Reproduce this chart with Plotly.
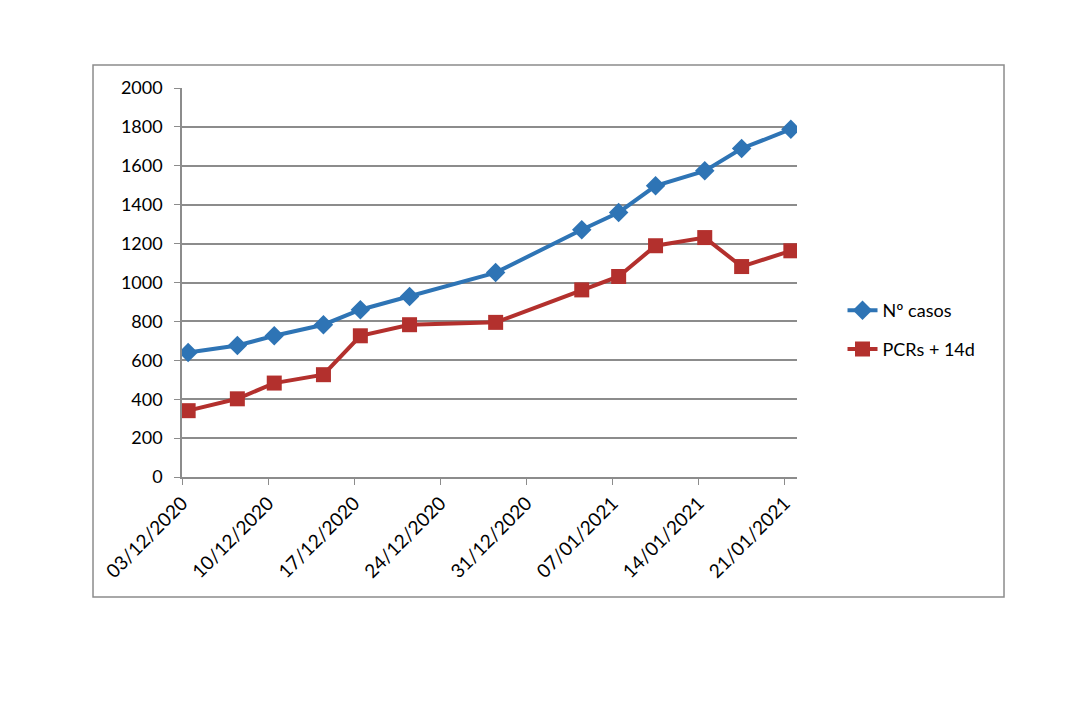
import plotly.graph_objects as go

dates = ["2020-12-03", "2020-12-07", "2020-12-10", "2020-12-14", "2020-12-17",
         "2020-12-21", "2020-12-28", "2021-01-04", "2021-01-07", "2021-01-10",
         "2021-01-14", "2021-01-17", "2021-01-21"]
casos = [640, 676, 726, 783, 860, 928, 1051, 1271, 1360, 1497, 1574, 1689, 1788]
pcrs = [341, 402, 483, 526, 726, 783, 795, 962, 1031, 1189, 1231, 1082, 1163]
tick_dates = ["2020-12-03", "2020-12-10", "2020-12-17", "2020-12-24",
              "2020-12-31", "2021-01-07", "2021-01-14", "2021-01-21"]
tick_labels = ["03/12/2020", "10/12/2020", "17/12/2020", "24/12/2020",
               "31/12/2020", "07/01/2021", "14/01/2021", "21/01/2021"]

# Excel date axis draws each point in the middle of its day
xpts = [d + " 12:00" for d in dates]

BLUE = "#2E74B5"
RED = "#B3302D"
GRID = "#8C8C8C"
FONT = "Lato"

fig = go.Figure()
fig.add_trace(go.Scatter(
    x=xpts, y=casos, name="Nº casos", mode="lines+markers",
    line=dict(color=BLUE, width=4),
    marker=dict(symbol="diamond", size=15, color=BLUE),
    legend="legend"))
fig.add_trace(go.Scatter(
    x=xpts, y=pcrs, name="PCRs + 14d", mode="lines+markers",
    line=dict(color=RED, width=4),
    marker=dict(symbol="square", size=15, color=RED),
    legend="legend2"))

fig.update_layout(
    width=1080, height=713,
    margin=dict(l=182, r=283, t=88, b=236),
    paper_bgcolor="white", plot_bgcolor="white",
    font=dict(family=FONT, size=18, color="black"),
    showlegend=True,
    legend=dict(x=1.074, y=0.428, xanchor="left", yanchor="middle",
                font=dict(family=FONT, size=18), bgcolor="rgba(0,0,0,0)"),
    legend2=dict(x=1.074, y=0.328, xanchor="left", yanchor="middle",
                 font=dict(family=FONT, size=18), bgcolor="rgba(0,0,0,0)"),
    xaxis=dict(
        type="date", range=["2020-12-03", "2021-01-22"],
        tickvals=tick_dates, ticktext=tick_labels, tickangle=-45,
        showgrid=False, showline=True, linecolor=GRID, linewidth=1.5,
        ticks="outside", ticklen=6, tickcolor=GRID,
        tickfont=dict(family=FONT, size=19), zeroline=False),
    yaxis=dict(
        range=[0, 2000], tickvals=list(range(0, 2001, 200)),
        showgrid=True, gridcolor=GRID, gridwidth=1.5,
        showline=True, linecolor=GRID, linewidth=1.5,
        ticks="outside", ticklen=6, tickcolor=GRID,
        tickfont=dict(family=FONT, size=18), zeroline=False,
        ticklabelstandoff=8),
    shapes=[dict(type="rect", xref="paper", yref="paper",
                 x0=-0.1447, x1=1.3366, y0=-0.3085, y1=1.059,
                 line=dict(color="#8C8C8C", width=1.5), fillcolor="rgba(0,0,0,0)",
                 layer="below")],
)

fig.write_html("out.html")
